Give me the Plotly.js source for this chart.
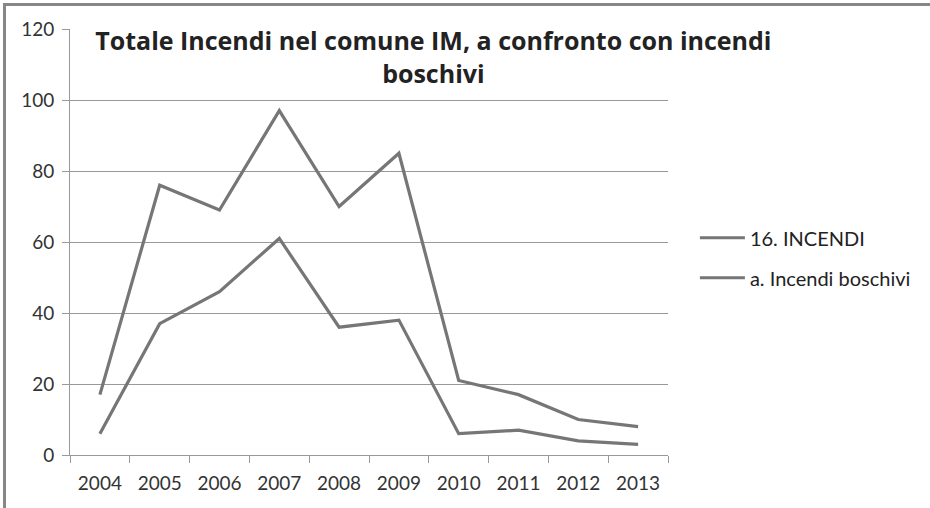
<!DOCTYPE html>
<html>
<head>
<meta charset="utf-8">
<script src="https://cdn.plot.ly/plotly-3.0.1.min.js"></script>
<style>
  html, body { margin: 0; padding: 0; background: #fff; }
  #wrap { position: relative; width: 930px; height: 508px; overflow: hidden; }
  #chart { width: 930px; height: 508px; }
  #frame { position: absolute; left: 3px; top: 3px; width: 1000px; height: 600px;
           border-top: 3px solid #878787; border-left: 3px solid #878787; pointer-events: none; }
</style>
</head>
<body>
<div id="wrap">
  <div id="chart"></div>
  <div id="frame"></div>
</div>
<script>
const years = ['2004','2005','2006','2007','2008','2009','2010','2011','2012','2013'];
const incendiTotali = [17, 76, 69, 97, 70, 85, 21, 17, 10, 8];
const incendiBoschivi = [6, 37, 46, 61, 36, 38, 6, 7, 4, 3];
const seriesNames = ['16. INCENDI', 'a. Incendi boschivi'];
const titleText = 'Totale Incendi nel comune IM, a confronto con incendi<br>boschivi';

const lineStyle = { color: '#767676', width: 3.2 };

const traces = [
  { x: years, y: incendiTotali, name: seriesNames[0], type: 'scatter', mode: 'lines',
    line: lineStyle, legendgroup: 'a' },
  { x: years, y: incendiBoschivi, name: seriesNames[1], type: 'scatter', mode: 'lines',
    line: lineStyle, legendgroup: 'b' }
];

const tickFont = { family: 'Lato, "Open Sans", sans-serif', size: 19, color: '#333' };

const layout = {
  width: 930, height: 508,
  margin: { l: 70, r: 262, t: 28.7, b: 53 },
  paper_bgcolor: '#fff', plot_bgcolor: '#fff',
  title: {
    text: titleText,
    font: { family: '"Open Sans", Lato, sans-serif', size: 25, color: '#222', weight: 'bold' },
    xref: 'container', x: 0.466, xanchor: 'center',
    yref: 'container', y: 1 - 50 / 508, yanchor: 'top'
  },
  xaxis: {
    type: 'category', range: [-0.5, 9.5],
    showline: true, linecolor: '#999', linewidth: 1,
    ticks: 'outside', ticklen: 7, tickcolor: '#999', tickson: 'boundaries',
    showgrid: false, zeroline: false, ticklabelstandoff: 11,
    tickfont: tickFont, fixedrange: true
  },
  yaxis: {
    range: [0, 120], dtick: 20, tick0: 0,
    showline: true, linecolor: '#999', linewidth: 1,
    ticks: 'outside', ticklen: 7, tickcolor: '#999',
    showgrid: true, gridcolor: '#999', gridwidth: 1,
    zeroline: false, tickfont: tickFont, ticklabelstandoff: 4, fixedrange: true
  },
  showlegend: true,
  legend: {
    x: 1.045, xanchor: 'left', y: 0.463, yanchor: 'middle',
    font: { family: 'Lato, "Open Sans", sans-serif', size: 20, color: '#222' },
    traceorder: 'grouped', tracegroupgap: 11, itemwidth: 45,
    bgcolor: 'rgba(0,0,0,0)', borderwidth: 0
  }
};

Plotly.newPlot('chart', traces, layout, { displayModeBar: false, staticPlot: true });
</script>
</body>
</html>
